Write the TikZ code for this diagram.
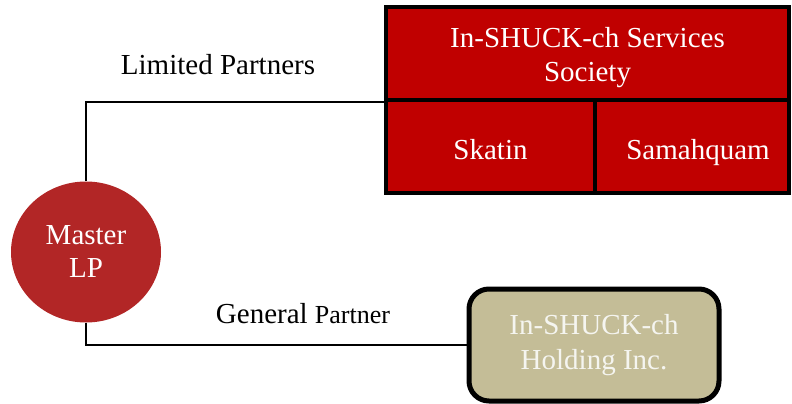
\documentclass[tikz,border=0pt]{standalone}
\usepackage{fontspec}
\setmainfont{Liberation Serif}
\usetikzlibrary{shapes.geometric}
\definecolor{boxred}{RGB}{192,0,0}
\definecolor{circred}{RGB}{178,38,38}
\definecolor{tanbox}{RGB}{196,189,151}
\begin{document}
\begin{tikzpicture}[x=1pt,y=-1pt,
  redbox/.style={draw=black,line width=4pt,fill=boxred,text=white,inner sep=0pt,
    minimum height=93pt,font=\fontsize{29}{34}\selectfont,align=center},
  lbl/.style={inner sep=0pt,font=\fontsize{29}{32}\selectfont},
  conn/.style={draw=black,line width=1.2pt}]
\useasboundingbox (0,0) rectangle (792,404);
\node[redbox,minimum width=403pt] (soc) at (587.5,53.5)
  {\raisebox{-4pt}[\height][\depth]{\begin{tabular}{@{}c@{}}In-SHUCK-ch Services\\Society\end{tabular}}};
\node[redbox,minimum width=209pt] (skatin) at (490.5,146.5) {\raisebox{-6pt}[\height][\depth]{Skatin\vphantom{Sq}}};
\node[redbox,minimum width=194pt] (samah) at (692,146.5) {\hspace*{12pt}\raisebox{-6pt}[\height][\depth]{Samahquam\vphantom{Sq}}};
\node[ellipse,fill=circred,inner sep=0pt,minimum width=150pt,minimum height=141pt,
  text=white,align=center,font=\fontsize{29}{33}\selectfont] (master) at (86,252) {Master\\LP};
\node[draw=black,line width=5pt,rounded corners=20pt,fill=tanbox,minimum width=250pt,
  minimum height=112pt,inner sep=0pt,text={rgb,255:red,245;green,245;blue,240},align=center,
  font=\fontsize{29}{35}\selectfont] (hold) at (594,345) {In-SHUCK-ch\\Holding Inc.};
\node[lbl] (lp) at (218,65) {Limited Partners};
\node[lbl] (gp) at (303,314) {General {\fontsize{26}{30}\selectfont Partner}};
\draw[conn] (master.north) |- (soc.south west);
\draw[conn] (master.south) |- (hold.west);
\end{tikzpicture}
\end{document}
